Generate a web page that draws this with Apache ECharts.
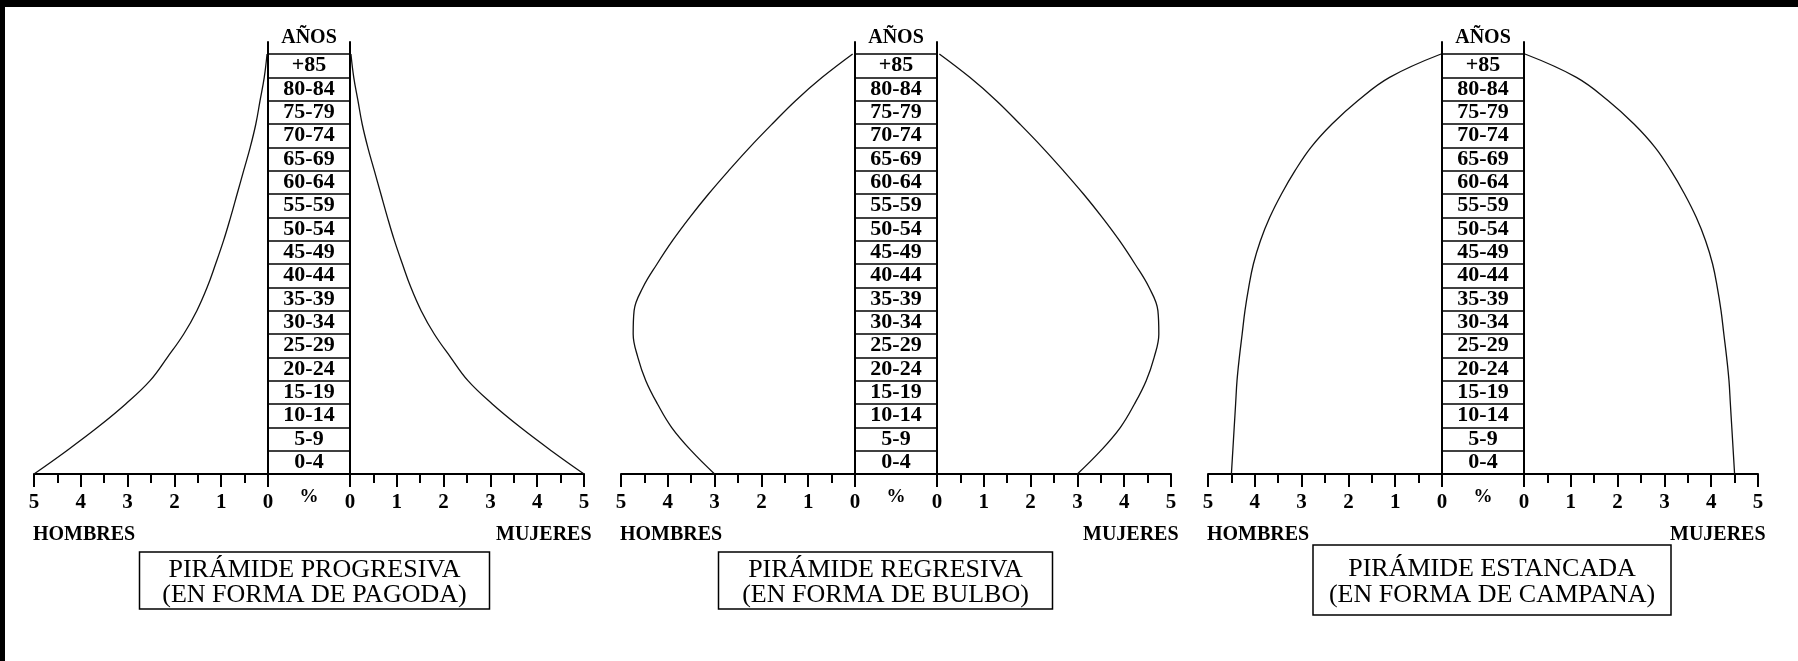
<!DOCTYPE html>
<html><head><meta charset="utf-8">
<script src="https://cdn.jsdelivr.net/npm/echarts@6/dist/echarts.min.js"></script>
<style>
html,body{margin:0;padding:0;background:#000;width:1798px;height:661px;overflow:hidden}
#c{position:absolute;left:5px;top:7px;width:1793px;height:654px;background:#fff}
</style>
</head><body><div id="c"></div>
<script>
// ---------- DATA ----------
const ageGroups = ['0-4','5-9','10-14','15-19','20-24','25-29','30-34','35-39','40-44',
  '45-49','50-54','55-59','60-64','65-69','70-74','75-79','80-84','+85'];
const ageBounds = [0,5,10,15,20,25,30,35,40,45,50,55,60,65,70,75,80,85,90];
const pctTicks = [0,1,2,3,4,5];
const sexLabels = ['HOMBRES','MUJERES'];
const headerLabel = 'AÑOS';
const unitLabel = '%';

// % of population at each age boundary
const pagodaHombres = [5.0,4.3,3.64,3.04,2.52,2.15,1.8,1.52,1.3,1.12,0.95,0.8,0.66,0.52,0.38,0.26,0.17,0.08,0.02];
const pagodaMujeres = [5.0,4.3,3.64,3.04,2.52,2.15,1.8,1.52,1.3,1.12,0.95,0.8,0.66,0.52,0.38,0.26,0.17,0.08,0.02];
const bulboHombres  = [3.0,3.5,3.92,4.22,4.47,4.64,4.74,4.72,4.53,4.23,3.9,3.53,3.13,2.7,2.25,1.77,1.27,0.7,0.05];
const bulboMujeres  = [3.0,3.5,3.92,4.22,4.47,4.64,4.74,4.72,4.53,4.23,3.9,3.53,3.13,2.7,2.25,1.77,1.27,0.7,0.05];
const campanaHombres = [4.5,4.47,4.44,4.41,4.38,4.33,4.27,4.21,4.13,4.03,3.88,3.68,3.43,3.14,2.8,2.35,1.8,1.12,0.02];
const campanaMujeres = [4.5,4.47,4.44,4.41,4.38,4.33,4.27,4.21,4.13,4.03,3.88,3.68,3.43,3.14,2.8,2.35,1.8,1.12,0.02];

const panelTitles = [
  'PIRÁMIDE PROGRESIVA\n(EN FORMA DE PAGODA)',
  'PIRÁMIDE REGRESIVA\n(EN FORMA DE BULBO)',
  'PIRÁMIDE ESTANCADA\n(EN FORMA DE CAMPANA)'
];
const panelData = [[pagodaHombres,pagodaMujeres],[bulboHombres,bulboMujeres],[campanaHombres,campanaMujeres]];

// ---------- LAYOUT ----------
const FONT = "'Liberation Serif','Times New Roman',serif";
const DX = 587, L_LEFT = 29, SIDE_W = 234, MID_LEFT = 263, MID_W = 82, R_LEFT = 345;
const FRAME_TOP = 35, TABLE_TOP = 47, BOTTOM = 187, H = 654;
const AXIS_Y = H - BOTTOM;
const FRAME_MAX = ageBounds[ageBounds.length-1] * (AXIS_Y - FRAME_TOP) / (AXIS_Y - TABLE_TOP);
const titleBox = [
  {c:309.5, p:23, top:545, lh:25, pv:[6,1]},
  {c:880.5, p:24, top:545, lh:25, pv:[6,1]},
  {c:1487,  p:16, top:538, lh:26, pv:[11,7]}
];

const grid = [], xAxis = [], yAxis = [], series = [], title = [];
const black = '#000';
const tickLabel = {fontFamily:FONT, fontSize:21, fontWeight:'bold', color:black, margin:18};

panelData.forEach((pd, p) => {
  const dx = p*DX;
  const gL = grid.length;
  grid.push({left:L_LEFT+dx, width:SIDE_W, top:FRAME_TOP, bottom:BOTTOM});
  grid.push({left:MID_LEFT+dx, width:MID_W, top:TABLE_TOP, bottom:BOTTOM});
  grid.push({left:R_LEFT+dx, width:SIDE_W, top:FRAME_TOP, bottom:BOTTOM});

  const sideX = (gi, inv) => ({
    gridIndex:gi, type:'value', min:pctTicks[0], max:pctTicks[pctTicks.length-1], interval:1, inverse:inv,
    axisLine:{show:true, onZero:false, lineStyle:{color:black, width:2}},
    axisTick:{show:true, length:13, lineStyle:{color:black, width:2}},
    minorTick:{show:true, splitNumber:2, length:9, lineStyle:{color:black, width:2}},
    splitLine:{show:false}, minorSplitLine:{show:false},
    axisLabel:tickLabel
  });
  const sideY = (gi, pos) => ({
    gridIndex:gi, type:'value', min:0, max:FRAME_MAX, position:pos,
    axisLine:{show:true, onZero:false, lineStyle:{color:black, width:2}},
    axisTick:{show:false}, axisLabel:{show:false}, splitLine:{show:false}
  });
  const xiL = xAxis.length;
  xAxis.push(sideX(gL, true));
  xAxis.push({gridIndex:gL+1, type:'value', min:0, max:1, position:'bottom',
    name:unitLabel, nameLocation:'middle', nameGap:14,
    nameTextStyle:{fontFamily:FONT, fontSize:19, fontWeight:'bold', color:black},
    axisLine:{show:true, onZero:false, lineStyle:{color:black, width:2}},
    axisTick:{show:false}, axisLabel:{show:false}, splitLine:{show:false}});
  xAxis.push({gridIndex:gL+1, type:'value', min:0, max:1, position:'top',
    name:headerLabel, nameLocation:'middle', nameGap:6,
    nameTextStyle:{fontFamily:FONT, fontSize:20, fontWeight:'bold', color:black},
    axisLine:{show:false}, axisTick:{show:false}, axisLabel:{show:false}, splitLine:{show:false}});
  xAxis.push(sideX(gL+2, false));

  const yiL = yAxis.length;
  yAxis.push(sideY(gL, 'right'));
  yAxis.push({gridIndex:gL+1, type:'category', data:ageGroups, boundaryGap:true,
    axisLine:{show:false}, axisTick:{show:false},
    splitLine:{show:true, interval:0, lineStyle:{color:black, width:1.5}},
    axisLabel:{interval:0, align:'center', margin:-MID_W/2, fontFamily:FONT, fontSize:22, fontWeight:'bold', color:black}});
  yAxis.push(sideY(gL+2, 'left'));

  const lineStyle = {color:'#111', width:1.3};
  series.push({type:'line', xAxisIndex:xiL, yAxisIndex:yiL, smooth:0.4, symbol:'none', clip:false,
    lineStyle, data: ageBounds.map((a,i)=>[pd[0][i], a]), silent:true});
  series.push({type:'line', xAxisIndex:xiL+3, yAxisIndex:yiL+2, smooth:0.4, symbol:'none', clip:false,
    lineStyle, data: ageBounds.map((a,i)=>[pd[1][i], a]), silent:true});

  const lbl = {fontFamily:FONT, fontSize:20, fontWeight:'bold', color:black};
  title.push({text:sexLabels[0], left:28+dx, top:518, padding:0, textAlign:'left', textVerticalAlign:'top', textStyle:lbl});
  title.push({text:sexLabels[1], left:491+dx, top:518, padding:0, textAlign:'left', textVerticalAlign:'top', textStyle:lbl});
  const tb = titleBox[p];
  title.push({text:panelTitles[p], left:tb.c - tb.p, top:tb.top, padding:[tb.pv[0],tb.p,tb.pv[1],tb.p],
    textAlign:'center', textVerticalAlign:'top', borderColor:black, borderWidth:1.5,
    textStyle:{fontFamily:FONT, fontSize:26, lineHeight:tb.lh, fontWeight:'normal', color:black}});
});

const chart = echarts.init(document.getElementById('c'), null, {renderer:'canvas'});
chart.setOption({backgroundColor:'#fff', animation:false, title, grid, xAxis, yAxis, series});
</script>
</body></html>
